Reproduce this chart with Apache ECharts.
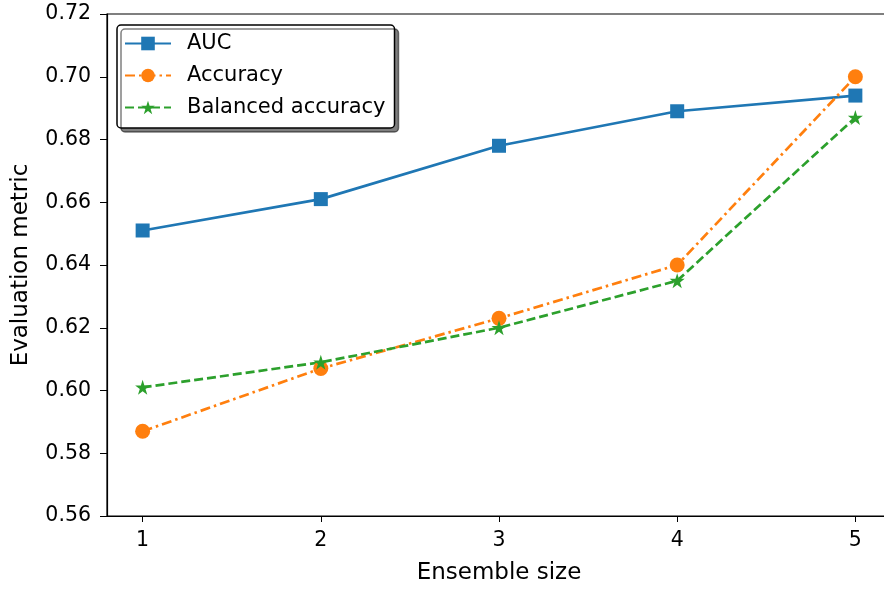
<!DOCTYPE html>
<html>
<head>
<meta charset="utf-8">
<script src="https://cdn.jsdelivr.net/npm/echarts@6/dist/echarts.min.js"></script>
<style>
  html, body { margin: 0; padding: 0; background: #fff; overflow: hidden; }
  #chart { width: 892px; height: 590px; }
</style>
</head>
<body>
<div id="chart"></div>
<script>
// ensemble sizes and the three metrics
const ensembleSizes = [1, 2, 3, 4, 5]
const auc = [0.651, 0.661, 0.678, 0.689, 0.694]
const accuracy = [0.587, 0.607, 0.623, 0.640, 0.700]
const balancedAccuracy = [0.601, 0.609, 0.620, 0.635, 0.687]
const yTicks = [0.56, 0.58, 0.60, 0.62, 0.64, 0.66, 0.68, 0.70, 0.72]

const starPath = 'path://M50,0 L61.8,35.4 L100,35.4 L69.1,57.3 L80.9,93.5 L50,71.6 L19.1,93.5 L30.9,57.3 L0,35.4 L38.2,35.4 Z'
const font = 'DejaVu Sans'

const pairs = vals => ensembleSizes.map((x, i) => [x, vals[i]])

const chart = echarts.init(document.getElementById('chart'))
chart.setOption({
  animation: false,
  backgroundColor: '#fff',
  textStyle: { fontFamily: font },
  grid: {
    left: 107, right: 1, top: 14, bottom: 72,
    show: true, borderColor: '#000', borderWidth: 1.2
  },
  legend: {
    orient: 'vertical',
    left: 117, top: 25,
    padding: [8, 9, 10, 7],
    itemWidth: 46, itemHeight: 17, itemGap: 11,
    backgroundColor: '#fff',
    borderColor: '#000', borderWidth: 1.5, borderRadius: 4,
    shadowColor: 'rgba(0,0,0,0.5)', shadowOffsetX: 4, shadowOffsetY: 4, shadowBlur: 0,
    textStyle: { fontFamily: font, fontSize: 21, color: '#000', padding: [0, 0, 0, 11] },
    data: ['AUC', 'Accuracy', 'Balanced accuracy']
  },
  xAxis: {
    type: 'value',
    min: 0.8, max: 5.2,
    name: 'Ensemble size',
    nameLocation: 'middle',
    nameGap: 46,
    nameTextStyle: { fontFamily: font, fontSize: 23, color: '#000' },
    axisLine: { lineStyle: { color: '#000', width: 1.2 } },
    axisTick: { customValues: ensembleSizes, length: 6, lineStyle: { color: '#000' } },
    axisLabel: { customValues: ensembleSizes, fontFamily: font, fontSize: 20.5, color: '#000', margin: 14 },
    splitLine: { show: false }
  },
  yAxis: {
    type: 'value',
    min: 0.56, max: 0.72, interval: 0.02,
    name: 'Evaluation metric',
    nameLocation: 'middle',
    nameGap: 74,
    nameTextStyle: { fontFamily: font, fontSize: 23, color: '#000' },
    axisLine: { show: true, lineStyle: { color: '#000', width: 1.2 } },
    axisTick: { show: true, length: 7, lineStyle: { color: '#000' } },
    axisLabel: {
      fontFamily: font, fontSize: 20.5, color: '#000', margin: 16,
      formatter: v => v.toFixed(2)
    },
    splitLine: { show: false }
  },
  series: [
    {
      name: 'AUC', type: 'line', data: pairs(auc),
      symbol: 'rect', symbolSize: 14,
      itemStyle: { color: '#1f77b4' },
      lineStyle: { color: '#1f77b4', width: 2.7 }
    },
    {
      name: 'Accuracy', type: 'line', data: pairs(accuracy),
      symbol: 'circle', symbolSize: 15,
      itemStyle: { color: '#ff7f0e' },
      lineStyle: { color: '#ff7f0e', width: 2.7, type: [10, 4, 2.5, 4] }
    },
    {
      name: 'Balanced accuracy', type: 'line', data: pairs(balancedAccuracy),
      symbol: starPath, symbolSize: 15,
      itemStyle: { color: '#2ca02c' },
      lineStyle: { color: '#2ca02c', width: 2.7, type: [9, 4] }
    }
  ]
})
</script>
</body>
</html>
